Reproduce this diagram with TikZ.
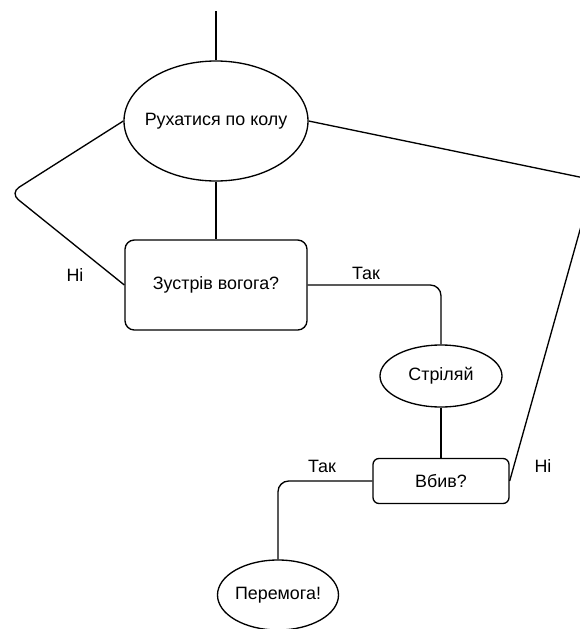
\documentclass[tikz,border=0pt]{standalone}
\usepackage{fontspec}
\setmainfont{Liberation Sans}
\usepackage{tikz}
\usetikzlibrary{shapes.geometric}
\newcommand{\ctext}[1]{\makebox[0pt]{#1}}
\begin{document}
\begin{tikzpicture}[x=0.75pt,y=-0.75pt,line width=1pt,
	font=\fontsize{13.4}{16}\selectfont,
	oval/.style={draw,ellipse,inner sep=0pt},
	box/.style={draw,rectangle,inner sep=0pt}]
	\useasboundingbox (0,0) rectangle (580,629);
	\clip (0,0) rectangle (580,629);
	
	% blocks
	\node[oval,minimum width=138pt,minimum height=90pt] (move) at (216,121) {\ctext{Рухатися по колу}};
	\node[box,rounded corners=7pt,minimum width=136.5pt,minimum height=67.5pt] (meet) at (216,285) {\ctext{Зустрів вогога?}};
	\node[oval,minimum width=91.5pt,minimum height=46.5pt] (shoot) at (441,376) {\ctext{Стріляй}};
	\node[box,rounded corners=4.5pt,minimum width=102pt,minimum height=33.75pt] (kill) at (441,481) {\ctext{Вбив?}};
	\node[oval,minimum width=90.75pt,minimum height=52.5pt] (win) at (278,595) {\ctext{Перемога!}};
	
	% free ends and bends
	\coordinate (start) at (216,11);
	\coordinate (lbend) at (10,193);
	\coordinate (rbend) at (594,180);
	
	% main line
	\draw (start)--(move.north);
	\draw (move.south)--(meet.north);
	\draw[rounded corners=8pt] (meet.east) -| (shoot.north);
	\draw (shoot.south)--(kill.north);
	\draw[rounded corners=8pt] (kill.west) -| (win.north);
	
	% loops back
	\draw[rounded corners=8pt] (move.west)--(lbend)--(meet.west);
	\draw[rounded corners=8pt] (move.east)--(rbend)--(kill.east);
	
	\node (yes1) at (366,273) {Так};
	\node (no1) at (75,275) {Ні};
	\node (yes2) at (322,466) {Так};
	\node (no2) at (543,466) {Ні};
\end{tikzpicture}
\end{document}
